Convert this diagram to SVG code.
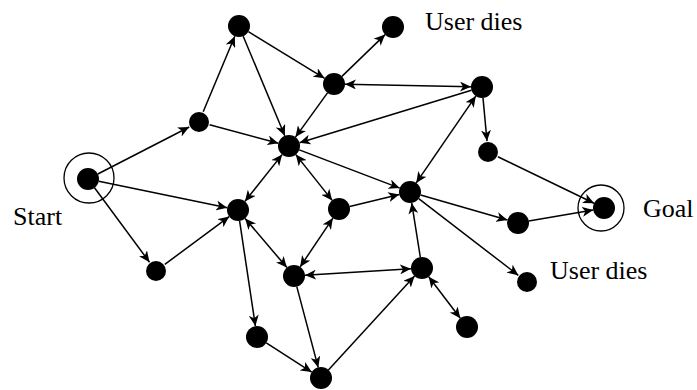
<svg xmlns="http://www.w3.org/2000/svg" width="697" height="390" viewBox="0 0 697 390">
<style>
.n{fill:#000}
.ring{fill:none;stroke:#000;stroke-width:1.3}
.e{stroke:#000;stroke-width:1.5;fill:none;marker-end:url(#ah)}
.b{marker-start:url(#ah)}
.t{font-family:"Liberation Serif","Times New Roman",serif;font-size:26px;fill:#000}
</style>
<defs>
<marker id="ah" markerUnits="userSpaceOnUse" markerWidth="12" markerHeight="10" refX="11" refY="5" orient="auto-start-reverse" viewBox="0 0 12 10">
<path d="M0,0 L11,5 L0,10 L3,5 z" fill="#000"/>
</marker>
</defs>
<rect width="697" height="390" fill="#fff"/>
<g id="connectors">
<line class="e" x1="97.8" y1="174" x2="189.2" y2="127"/>
<line class="e" x1="98.8" y1="181.2" x2="227.2" y2="207.8"/>
<line class="e" x1="94.5" y1="187.8" x2="149.5" y2="262.2"/>
<line class="e" x1="164.8" y1="264.4" x2="229.2" y2="216.6"/>
<line class="e" x1="203.2" y1="111.8" x2="234.8" y2="36.2"/>
<line class="e" x1="209.6" y1="124.8" x2="278.4" y2="143.2"/>
<line class="e" x1="243.2" y1="36.2" x2="284.8" y2="135.8"/>
<line class="e" x1="248.4" y1="31.7" x2="324.6" y2="78.3"/>
<line class="e" x1="341.9" y1="76.4" x2="385.1" y2="34.6"/>
<line class="e b" x1="345" y1="84.2" x2="471" y2="86.8"/>
<line class="e" x1="327.5" y1="92.9" x2="295.5" y2="137.1"/>
<line class="e" x1="471.5" y1="90.2" x2="299.5" y2="142.8"/>
<line class="e" x1="483" y1="97.9" x2="487" y2="141.1"/>
<line class="e b" x1="475.8" y1="96.1" x2="416.2" y2="182.9"/>
<line class="e" x1="497.9" y1="156.8" x2="594.1" y2="203.2"/>
<line class="e" x1="528.8" y1="221.1" x2="593.2" y2="209.9"/>
<line class="e" x1="420.6" y1="195" x2="507.4" y2="220"/>
<line class="e" x1="418.7" y1="198.7" x2="518.3" y2="275.3"/>
<line class="e" x1="299.3" y1="149.9" x2="399.7" y2="188.1"/>
<line class="e b" x1="282.1" y1="154.6" x2="244.9" y2="201.4"/>
<line class="e b" x1="295.8" y1="154.6" x2="332.2" y2="200.4"/>
<line class="e" x1="349.7" y1="206.4" x2="399.3" y2="194.6"/>
<line class="e b" x1="332.9" y1="218.1" x2="300.1" y2="266.9"/>
<line class="e b" x1="245.1" y1="218.4" x2="286.9" y2="267.6"/>
<line class="e" x1="239.6" y1="220.9" x2="255.4" y2="326.1"/>
<line class="e" x1="266.3" y1="342.9" x2="311.7" y2="372.1"/>
<line class="e" x1="296.8" y1="286.6" x2="318.2" y2="367.4"/>
<line class="e" x1="328.4" y1="369.9" x2="414.6" y2="276.1"/>
<line class="e b" x1="305" y1="275.3" x2="411" y2="268.7"/>
<line class="e" x1="420.3" y1="257.1" x2="411.7" y2="202.9"/>
<line class="e b" x1="428.7" y1="276.7" x2="460.3" y2="318.3"/>
</g>
<g id="start"><circle class="ring" cx="89" cy="178" r="25"/><circle class="n" cx="88" cy="179" r="11"/><text class="t" x="13" y="225">Start</text></g>
<g id="a"><circle class="n" cx="199" cy="122" r="10"/></g>
<g id="b"><circle class="n" cx="239" cy="26" r="11"/></g>
<g id="c"><circle class="n" cx="289" cy="146" r="11"/></g>
<g id="d"><circle class="n" cx="334" cy="84" r="11"/></g>
<g id="dies1"><circle class="n" cx="393" cy="27" r="11"/><text class="t" x="425" y="30">User dies</text></g>
<g id="e"><circle class="n" cx="482" cy="87" r="11"/></g>
<g id="f"><circle class="n" cx="488" cy="152" r="10"/></g>
<g id="goal"><circle class="ring" cx="601" cy="208" r="23"/><circle class="n" cx="604" cy="208" r="11"/><text class="t" x="643" y="217">Goal</text></g>
<g id="h"><circle class="n" cx="518" cy="223" r="11"/></g>
<g id="dies2"><circle class="n" cx="527" cy="282" r="10"/><text class="t" x="550" y="279">User dies</text></g>
<g id="i"><circle class="n" cx="410" cy="192" r="11"/></g>
<g id="j"><circle class="n" cx="339" cy="209" r="11"/></g>
<g id="k"><circle class="n" cx="238" cy="210" r="11"/></g>
<g id="l"><circle class="n" cx="156" cy="271" r="10"/></g>
<g id="m"><circle class="n" cx="294" cy="276" r="11"/></g>
<g id="n"><circle class="n" cx="422" cy="268" r="11"/></g>
<g id="o"><circle class="n" cx="467" cy="327" r="11"/></g>
<g id="p"><circle class="n" cx="257" cy="337" r="11"/></g>
<g id="q"><circle class="n" cx="321" cy="378" r="11"/></g>
</svg>
